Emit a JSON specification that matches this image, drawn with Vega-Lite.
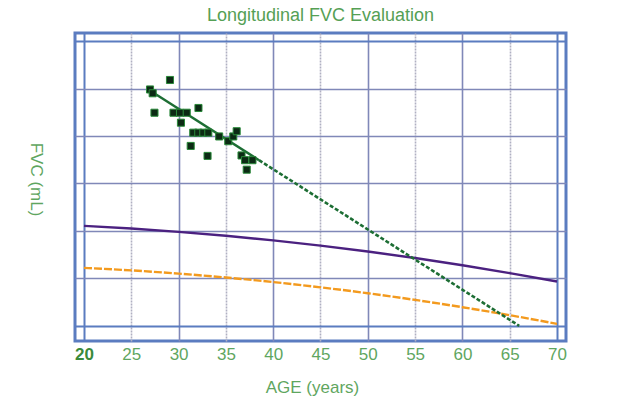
{
  "$schema": "https://vega.github.io/schema/vega-lite/v6.json",
  "width": 491,
  "height": 308,
  "autosize": {"type": "none"},
  "padding": {"left": 75, "top": 33, "right": 78, "bottom": 67},
  "background": "white",
  "title": {"text": "Longitudinal FVC Evaluation", "color": "#55a055", "fontSize": 18, "font": "Liberation Sans", "fontWeight": "normal", "anchor": "middle", "offset": 8},
  "config": {"view": {"stroke": "#5b7cc0", "strokeWidth": 3}, "font": "Liberation Sans"},
  "datasets": {
    "pts": [
      {"age": 26.98, "fvc": 4.98}, {"age": 27.26, "fvc": 4.90}, {"age": 29.09, "fvc": 5.18},
      {"age": 27.45, "fvc": 4.49}, {"age": 29.46, "fvc": 4.49}, {"age": 30.15, "fvc": 4.49},
      {"age": 30.86, "fvc": 4.49}, {"age": 30.25, "fvc": 4.28}, {"age": 32.10, "fvc": 4.59},
      {"age": 31.55, "fvc": 4.07}, {"age": 32.08, "fvc": 4.07}, {"age": 32.61, "fvc": 4.07},
      {"age": 33.14, "fvc": 4.07}, {"age": 31.28, "fvc": 3.79}, {"age": 33.06, "fvc": 3.58},
      {"age": 34.29, "fvc": 3.99}, {"age": 35.25, "fvc": 3.89}, {"age": 35.78, "fvc": 3.99},
      {"age": 36.14, "fvc": 4.10}, {"age": 36.65, "fvc": 3.59}, {"age": 37.02, "fvc": 3.49},
      {"age": 37.81, "fvc": 3.49}, {"age": 37.20, "fvc": 3.29}
    ],
    "reg": [
      {"age": 26.8, "fvc": 4.98, "part": "fit"}, {"age": 38.5, "fvc": 3.49, "part": "fit"},
      {"age": 38.5, "fvc": 3.49, "part": "proj"}, {"age": 66.0, "fvc": 0.0, "part": "proj"}
    ],
    "curves": [
      {"age": 20, "fvc": 2.105, "s": "pred"}, {"age": 25, "fvc": 2.049, "s": "pred"},
      {"age": 30, "fvc": 1.980, "s": "pred"}, {"age": 35, "fvc": 1.897, "s": "pred"},
      {"age": 40, "fvc": 1.800, "s": "pred"}, {"age": 45, "fvc": 1.689, "s": "pred"},
      {"age": 50, "fvc": 1.565, "s": "pred"}, {"age": 55, "fvc": 1.428, "s": "pred"},
      {"age": 60, "fvc": 1.276, "s": "pred"}, {"age": 65, "fvc": 1.111, "s": "pred"},
      {"age": 70, "fvc": 0.933, "s": "pred"},
      {"age": 20, "fvc": 1.221, "s": "lln"}, {"age": 25, "fvc": 1.168, "s": "lln"},
      {"age": 30, "fvc": 1.100, "s": "lln"}, {"age": 35, "fvc": 1.018, "s": "lln"},
      {"age": 40, "fvc": 0.922, "s": "lln"}, {"age": 45, "fvc": 0.811, "s": "lln"},
      {"age": 50, "fvc": 0.686, "s": "lln"}, {"age": 55, "fvc": 0.546, "s": "lln"},
      {"age": 60, "fvc": 0.392, "s": "lln"}, {"age": 65, "fvc": 0.224, "s": "lln"},
      {"age": 70, "fvc": 0.042, "s": "lln"}
    ]
  },
  "layer": [
    {
      "data": {"name": "curves"},
      "transform": [{"filter": "datum.s === 'pred'"}],
      "mark": {"type": "line", "color": "#4b2180", "strokeWidth": 2.4, "interpolate": "monotone"},
      "encoding": {
        "x": {
          "field": "age", "type": "quantitative",
          "scale": {"domain": [19.05, 70.95], "nice": false, "zero": false},
          "axis": {
            "values": [20, 25, 30, 35, 40, 45, 50, 55, 60, 65, 70],
            "domain": false, "ticks": false,
            "labelPadding": 5, "labelFontSize": 17, "labelFont": "Liberation Sans",
            "labelColor": {"condition": {"test": "datum.value === 20", "value": "#3a8a3a"}, "value": "#5fa65f"},
            "labelFontWeight": {"condition": {"test": "datum.value === 20", "value": "bold"}, "value": "normal"},
            "grid": true,
            "gridColor": {"condition": [{"test": "datum.value === 20 || datum.value === 70", "value": "#5b7cc0"}, {"test": "datum.value % 10 === 0", "value": "#8088b8"}], "value": "#b0b0c2"},
            "gridWidth": {"condition": {"test": "datum.value === 20 || datum.value === 70", "value": 2}, "value": 1.6},
            "gridDash": {"condition": {"test": "datum.value % 10 !== 0", "value": [2, 1]}, "value": []},
            "gridOpacity": 1,
            "title": "AGE (years)", "titleFontSize": 17, "titleFontWeight": "normal", "titleColor": "#5fa65f",
            "titleX": 237, "titleY": 38, "titleFont": "Liberation Sans"
          }
        },
        "y": {
          "field": "fvc", "type": "quantitative",
          "scale": {"domain": [-0.32, 6.17], "nice": false, "zero": false},
          "axis": {
            "values": [0, 1, 2, 3, 4, 5, 6],
            "domain": false, "ticks": false, "labels": false,
            "grid": true,
            "gridColor": {"condition": {"test": "datum.value === 0 || datum.value === 6", "value": "#5b7cc0"}, "value": "#8088b8"},
            "gridWidth": {"condition": {"test": "datum.value === 0 || datum.value === 6", "value": 2}, "value": 1.6},
            "gridOpacity": 1,
            "title": "FVC (mL)", "titleAngle": 90, "titleFontSize": 17, "titleFontWeight": "normal", "titleColor": "#5fa65f",
            "titleX": -49, "titleY": 146, "titleFont": "Liberation Sans"
          }
        }
      }
    },
    {
      "data": {"name": "curves"},
      "transform": [{"filter": "datum.s === 'lln'"}],
      "mark": {"type": "line", "color": "#f39a1e", "strokeWidth": 2.4, "strokeDash": [8, 2], "interpolate": "monotone"},
      "encoding": {
        "x": {"field": "age", "type": "quantitative"},
        "y": {"field": "fvc", "type": "quantitative"}
      }
    },
    {
      "data": {"name": "reg"},
      "transform": [{"filter": "datum.part === 'proj'"}],
      "mark": {"type": "line", "color": "#1d6e34", "strokeWidth": 2.6, "strokeDash": [4, 2]},
      "encoding": {
        "x": {"field": "age", "type": "quantitative"},
        "y": {"field": "fvc", "type": "quantitative"}
      }
    },
    {
      "data": {"name": "reg"},
      "transform": [{"filter": "datum.part === 'fit'"}],
      "mark": {"type": "line", "color": "#1d6e34", "strokeWidth": 2.4},
      "encoding": {
        "x": {"field": "age", "type": "quantitative"},
        "y": {"field": "fvc", "type": "quantitative"}
      }
    },
    {
      "data": {"name": "pts"},
      "mark": {"type": "point", "shape": "square", "filled": true, "size": 50, "color": "#0c2a14", "stroke": "#2a8a3a", "strokeWidth": 1, "opacity": 1},
      "encoding": {
        "x": {"field": "age", "type": "quantitative"},
        "y": {"field": "fvc", "type": "quantitative"}
      }
    }
  ]
}
